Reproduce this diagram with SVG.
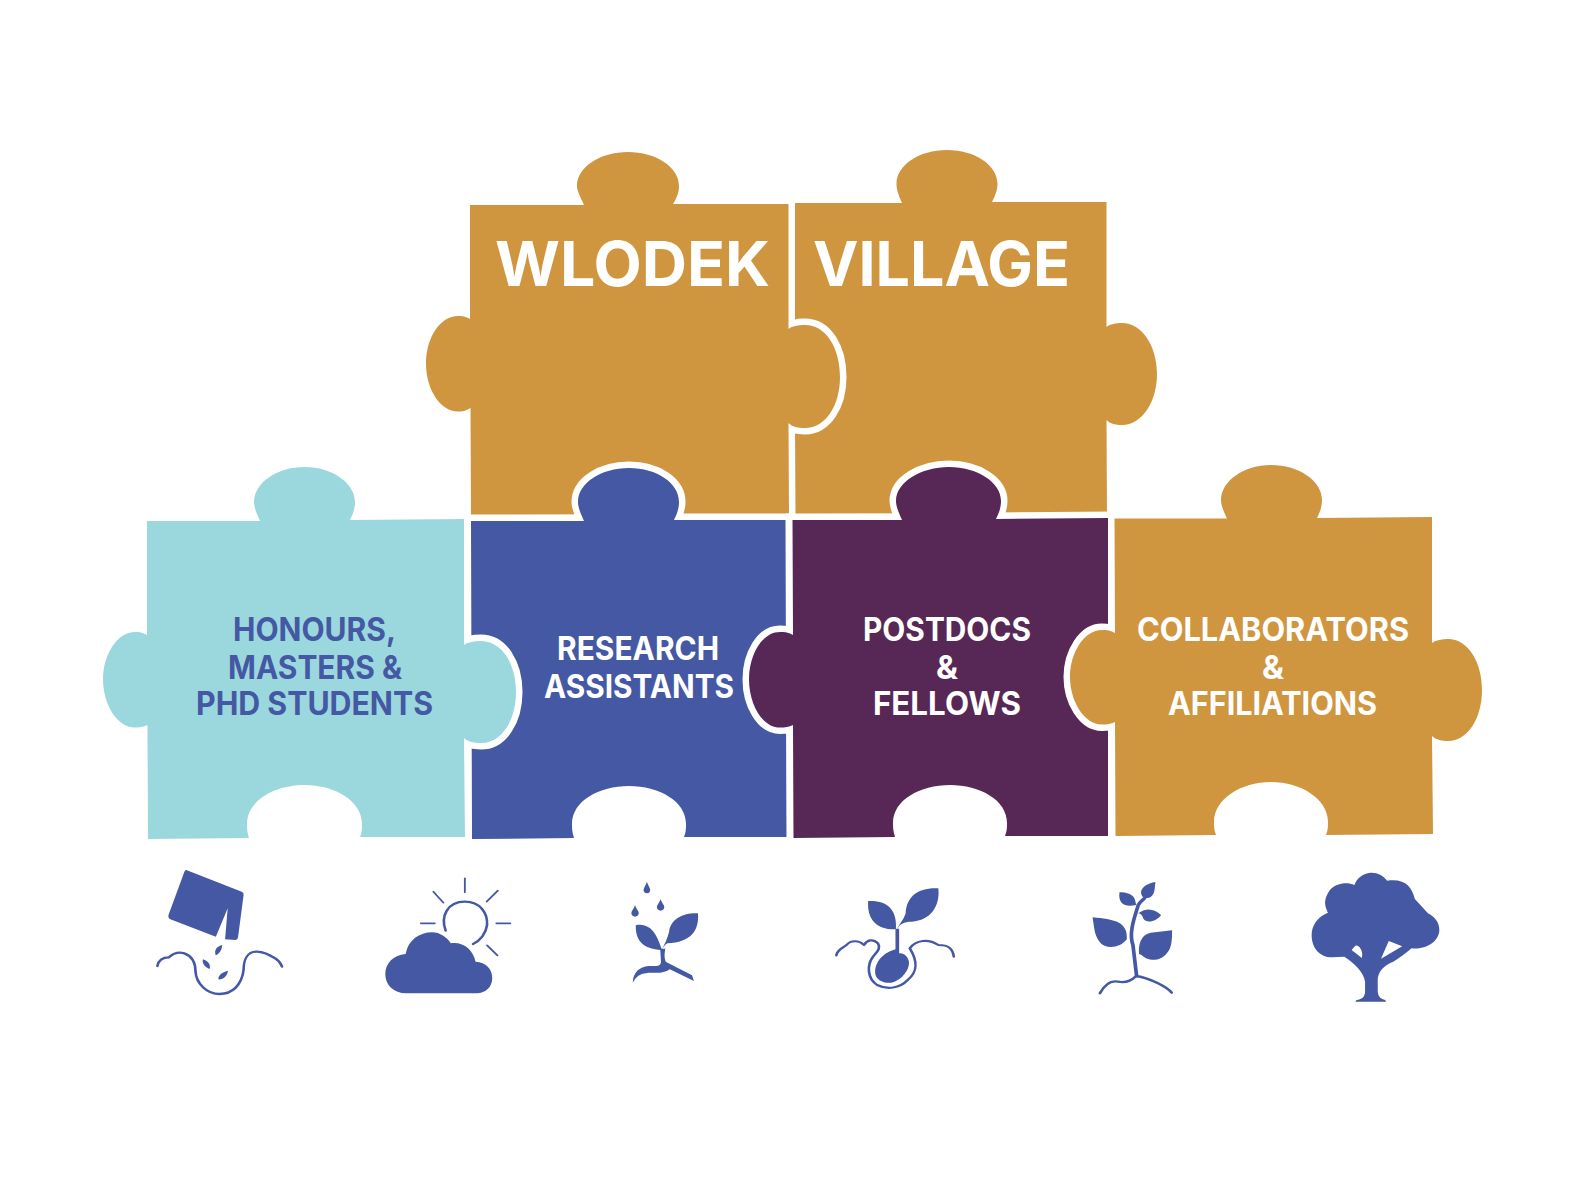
<svg xmlns="http://www.w3.org/2000/svg" width="1596" height="1194" viewBox="0 0 1596 1194">
<style>
.p{stroke:#fff;stroke-width:13;stroke-linejoin:miter;paint-order:stroke}
.gold{fill:#CF963F}.teal{fill:#9BD8DE}.blue{fill:#4458A3}.purple{fill:#572755}
text{font-family:Inter,"Liberation Sans",sans-serif;font-weight:700;text-anchor:start}
.w{fill:#fff}.b{fill:#4458A3}
.t{font-size:32px}
.h{font-size:62px}
.i{fill:#4458A3}.s{fill:none;stroke:#4458A3;stroke-width:7;stroke-linecap:round;stroke-linejoin:round}
</style>
<rect width="1596" height="1194" fill="#fff"/>
<g id="piece-village">
<path class="p gold" d="M794.400,203 L902,203 C898,194 896.500,189 896.500,184 C896.500,165 919,150 947,150 C975,150 997.500,165 997.500,184 C997.500,189 996,194 992,202 L1106.500,202 L1106.500,327 C1110,324 1116,323 1122,323 C1142,323 1157,346 1157,374 C1157,402 1142,425 1122,425 C1116,425 1110,424 1106.500,420 L1107,513 L795,514Z"/>
</g>
<g id="piece-wlodek">
<path class="p gold" d="M470,205 L584,205 C580,196 577,191 577,186 C577,167 600,152 628,152 C656,152 679,167 679,186 C679,191 678,196 673,204 L788.500,204 L788.500,329 C792,326 798,325 805,325 C826,325 840,348 840,377 C840,405 826,428 805,428 C798,428 792,427 788.500,423 L789,514 L471,515 L470.500,408 C466,411 462,411.500 458,411.500 C440,411.500 426,389 426,363.500 C426,338 440,316 458,316 C462,316 466,316.500 470,319Z"/>
</g>
<g id="piece-research">
<path class="blue p" d="M471,521 L584,521 C580,512 578,507 578,502 C578,483 601,468 629,468 C657,468 679,483 679,502 C679,507 678,512 674,520 L785.500,520 L786.500,837 L684,837 C686,832 686,828 686,824 C686,801 659,786 629,786 C599,786 572,801 572,824 C572,828 572,832 574,838 L472,839Z"/>
</g>
<g id="piece-postdocs">
<path class="purple p" d="M792.500,520 L902,520 C898,511 896,506 896,501 C896,482 921,467 949,467 C977,467 1001,482 1001,501 C1001,506 1000,511 996,519 L1108,518 L1108,836 L1005,836 C1007,831 1007,827 1007,823 C1007,800 980,785 950,785 C920,785 893,800 893,823 C893,827 893,831 895,837 L793.500,838 L793,725 C789,727 785,727.500 780,727.500 C762,727.500 749,704 749,679.500 C749,655 762,632 780,632 C785,632 789,632.500 793,635Z"/>
</g>
<g id="piece-collaborators">
<path class="gold p" d="M1114.500,518.500 L1227,518.500 C1223,510 1221,505 1221,500 C1221,481 1244,465 1271,465 C1299,465 1322,481 1322,500 C1322,505 1321,510 1317,518 L1432,517 L1432,643 C1436,640 1442,639 1448,639 C1468,639 1482,662 1482,690 C1482,718 1468,741 1448,741 C1442,741 1436,740 1432,736 L1433,834 L1326,835 C1328,830 1328,826 1328,822 C1328,799 1301,782 1271,782 C1241,782 1214,799 1214,822 C1214,826 1214,830 1216,835 L1115.500,836 L1115,722 C1111,724 1107,724.500 1102,724.500 C1084,724.500 1070,701 1070,677 C1070,653 1084,630 1102,630 C1107,630 1111,630.500 1115,633Z"/>
</g>
<g id="piece-honours">
<path class="teal p" d="M147,521 L260,521 C256,512 254,507 254,502 C254,483 277,467 304.500,467 C332,467 355,483 355,502 C355,507 354,512 350,520 L464,519 L464,645 C468,642 474,641 481,641 C502,641 516,664 516,692 C516,720 502,743 481,743 C474,743 468,742 464,738 L465,837 L360,837 C362,832 362,828 362,824 C362,801 335,785 304.500,785 C274,785 247,801 247,824 C247,828 247,832 249,838 L148,839 L147.500,725 C143,727 139,727.500 135,727.500 C117,727.500 103,704 103,679.500 C103,655 117,632 135,632 C139,632 143,632.500 147,635Z"/>
</g>
<g id="labels">
<text class="h w" x="495" y="286" textLength="275" lengthAdjust="spacingAndGlyphs">WLODEK</text>
<text class="h w" x="813" y="286" textLength="257" lengthAdjust="spacingAndGlyphs">VILLAGE</text>
<text class="t b" x="233" y="641" textLength="163" lengthAdjust="spacingAndGlyphs">HONOURS,</text>
<text class="t b" x="228" y="679" textLength="174" lengthAdjust="spacingAndGlyphs">MASTERS &amp;</text>
<text class="t b" x="196" y="715" textLength="237" lengthAdjust="spacingAndGlyphs">PHD STUDENTS</text>
<text class="t w" x="557" y="660" textLength="162" lengthAdjust="spacingAndGlyphs">RESEARCH</text>
<text class="t w" x="544" y="698" textLength="190" lengthAdjust="spacingAndGlyphs">ASSISTANTS</text>
<text class="t w" x="863" y="641" textLength="168" lengthAdjust="spacingAndGlyphs">POSTDOCS</text>
<text class="t w" x="936" y="679" textLength="22" lengthAdjust="spacingAndGlyphs">&amp;</text>
<text class="t w" x="873" y="715" textLength="148" lengthAdjust="spacingAndGlyphs">FELLOWS</text>
<text class="t w" x="1137" y="641" textLength="272" lengthAdjust="spacingAndGlyphs">COLLABORATORS</text>
<text class="t w" x="1262" y="679" textLength="22" lengthAdjust="spacingAndGlyphs">&amp;</text>
<text class="t w" x="1168" y="715" textLength="209" lengthAdjust="spacingAndGlyphs">AFFILIATIONS</text>
</g>
<g id="icons-a" transform="translate(140 850) scale(.37 .3333)">
<g id="icon-seed">
<path class="i" d="M125,60 L275,125 Q281,128 280,135 L265,262 Q264,270 258,270 L230,268 L237,175 L205,260 L82,208 Q75,203 77,195 L120,65 Q122,59 125,60Z"/>
<path class="i" d="M222,285 C222,300 214,312 205,316 C200,303 205,290 222,285Z M170,328 C185,333 192,345 188,357 C176,352 167,340 170,328Z M238,362 C236,378 224,390 212,388 C210,375 225,365 238,362Z"/>
<path class="s" d="M47,348 C50,330 60,322 78,322 C90,310 105,305 120,310 C140,318 150,335 150,365 C152,400 180,432 215,432 C250,432 275,405 280,360 C280,330 290,305 315,305 C335,305 350,315 365,325 C378,333 380,340 384,350"/>
</g>
<g id="icon-weather">
<path class="i" d="M720,430 C685,430 663,405 663,372 C663,340 685,315 718,312 C725,270 755,247 790,247 C810,247 830,262 840,280 C875,275 900,300 907,335 C935,338 952,355 952,385 C952,410 935,430 910,430Z"/>
<path class="s" d="M826,242 C812,200 830,155 878,155 C920,155 940,190 938,225 C935,250 920,272 900,282"/>
<path class="s" style="stroke-width:5" d="M878,85 L878,127 M793,125 L820,158 M967,122 L937,155 M759,220 L797,220 M963,220 L1001,220 M938,286 L966,316"/>
</g>
<g id="icon-sprout">
<path class="i" d="M1370,95 C1372,105 1379,112 1379,120 C1379,126 1375,130 1370,130 C1365,130 1361,126 1361,120 C1361,112 1368,105 1370,95Z M1338,165 C1340,175 1348,182 1348,190 C1348,196 1343,200 1338,200 C1333,200 1328,196 1328,190 C1328,182 1336,175 1338,165Z M1407,147 C1409,157 1417,164 1417,172 C1417,178 1412,182 1407,182 C1402,182 1397,178 1397,172 C1397,164 1405,157 1407,147Z"/>
<path class="i" d="M1340,226 C1375,218 1395,245 1410,298 L1408,300 C1375,298 1338,285 1340,226Z M1508,190 C1512,240 1490,278 1425,280 C1418,285 1412,295 1410,298 C1420,280 1425,265 1430,245 C1435,205 1470,188 1508,190Z"/>
<path class="i" d="M1406,296 L1420,296 C1416,315 1418,330 1422,336 L1492,376 L1497,393 L1432,358 C1415,372 1395,368 1375,368 C1350,370 1340,380 1332,398 C1332,368 1350,350 1375,348 C1395,348 1408,350 1408,335Z"/>
</g>
</g>
<g id="icons-b" transform="translate(820 850) scale(.408 .3333)">
<g id="icon-seedling">
<path class="i" d="M118,153 C165,150 190,180 186,238 C140,240 115,210 118,153Z M290,115 C240,112 212,140 210,190 C205,210 195,220 188,240 C195,222 205,215 225,215 C270,212 295,170 290,115Z"/>
<path class="i" d="M185,236 L194,236 L194,310 C206,308 216,320 218,335 C220,360 200,390 175,398 C155,400 135,390 135,365 C135,340 150,310 185,298Z"/>
<path class="s" style="stroke-width:6.500" d="M40,316 C42,300 55,295 65,285 C75,270 95,270 108,285 C115,270 130,265 142,280 C150,295 140,305 130,320 C115,345 115,385 140,405 C165,420 195,415 215,390 C240,365 240,335 220,295 C235,270 265,265 290,285 C315,285 325,295 328,320"/>
</g>
<g id="icon-plant">
<path class="i" d="M668,202 C720,208 755,215 752,268 C735,295 700,300 685,275 C672,255 672,230 668,202Z M863,241 L810,248 C785,255 780,285 782,312 L788,315 C800,330 830,340 850,310 C862,295 863,270 863,241Z M822,96 C820,125 820,145 795,145 C780,130 785,105 822,96Z M734,127 C770,128 772,145 775,165 C750,172 730,165 734,127Z M780,190 C805,170 820,180 836,195 C825,215 800,222 792,205 C790,195 785,190 780,190Z"/>
<path class="s" style="stroke-width:9" d="M776,378 L767,285 C755,245 775,190 780,165 C785,155 790,150 795,145"/>
<path class="s" d="M686,430 C695,410 710,390 730,395 C750,400 765,390 775,378 C810,385 850,410 862,428"/>
</g>
<g id="icon-tree">
<path class="i" fill-rule="evenodd" d="M1312,455 L1388,455 L1385,450 C1370,445 1367,435 1367,420 L1367,385 C1370,360 1385,345 1405,335 C1420,325 1435,310 1450,295 C1490,300 1518,270 1518,240 C1518,215 1505,200 1490,190 L1458,147 C1450,110 1435,85 1390,92 C1380,75 1365,67 1350,68 C1330,70 1315,85 1310,105 C1290,95 1265,100 1250,120 C1235,145 1235,165 1245,188 C1220,200 1205,225 1205,255 C1205,295 1225,322 1255,322 L1285,320 C1310,340 1332,365 1336,395 L1336,425 C1335,440 1330,447 1315,450Z M1312,287 C1325,285 1332,310 1328,324 L1303,300Z M1394,273 L1427,289 L1375,326Z"/>
</g>
</g>
</svg>
